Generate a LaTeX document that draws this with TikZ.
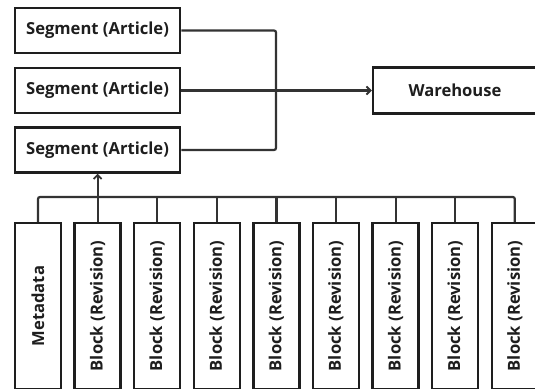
\documentclass[tikz,border=0pt]{standalone}
\usepackage{fontspec}
\setmainfont{Open Sans}
\usetikzlibrary{arrows.meta}
\definecolor{ink}{HTML}{1E1E1E}
\definecolor{wire}{HTML}{333333}
\tikzset{
  box/.style={draw=ink, line width=2.5pt, fill=white, inner sep=0pt, text=ink,
    font=\bfseries\fontsize{16.6}{19}\selectfont},
  segbox/.style={box, minimum width=165pt, minimum height=45pt},
  vbox/.style={box, minimum width=46pt, minimum height=166pt},
  wire/.style={draw=wire, line width=2.2pt},
  tip/.style={-{Straight Barb[length=4pt,width=8pt,line width=1.8pt]}}
}
\begin{document}
\begin{tikzpicture}[x=1pt,y=-1pt]
\useasboundingbox (0,0) rectangle (535,388);
\clip (0,0) rectangle (535,388);
\node[segbox] (s1) at (97.5,30.5) {Segment (Article)};
\node[segbox] (s2) at (97.5,90.5) {Segment (Article)};
\node[segbox] (s3) at (97.5,150) {Segment (Article)};
\node[segbox, minimum width=164pt, minimum height=46pt] (w) at (455,90.5) {Warehouse};
\coordinate (j) at (276,90.5);
\draw[wire, rounded corners=2pt] (s1.east) -| (j) |- (s3.east);
\draw[wire, tip] (s2.east) -- (w.west);
\node[vbox] (m) at (38,306) {\rotatebox{90}{Metadata}};
\foreach \i in {1,...,8} {
  \node[vbox] (b\i) at (38+59.6*\i,306) {\rotatebox{90}{Block (Revision)}};
}
\coordinate (bus) at (0,197);
\draw[wire, rounded corners=2pt] (m.north) |- (bus -| b4.north) -| (b8.north);
\foreach \i in {2,...,7} {
  \draw[wire] (b\i.north) -- (b\i.north |- bus);
}
\draw[wire, tip] (b1.north) -- (b1.north |- s3.south);
\end{tikzpicture}
\end{document}
